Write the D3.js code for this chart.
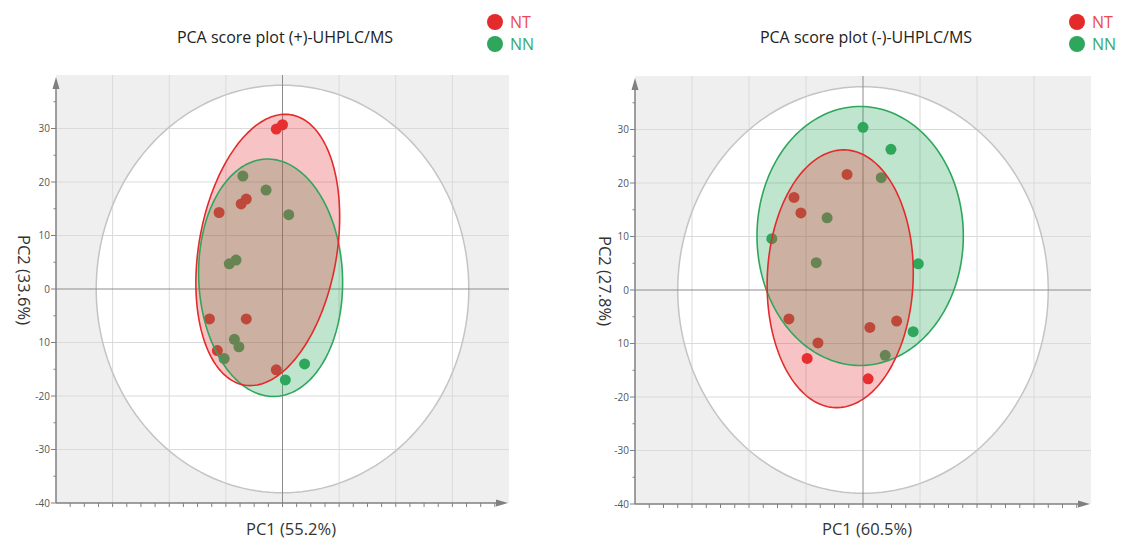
<!DOCTYPE html>
<html>
<head>
<meta charset="utf-8">
<script src="https://cdn.jsdelivr.net/npm/d3@7"></script>
<style>
  body { margin: 0; background: #fff; }
  svg text { font-family: "Open Sans", "Noto Sans", sans-serif; }
</style>
</head>
<body>
<div id="chart"></div>
<script>
// groups shown in the legend
const groups = ["NT", "NN"];

// (+)-UHPLC/MS scores
const posNTpc1 = [-1.1, 0.0, -6.4, -7.3, -11.2, -12.9, -6.4, -11.5, -1.1];
const posNTpc2 = [29.9, 30.7, 16.8, 15.9, 14.3, -5.6, -5.6, -11.5, -15.1];
const posNNpc1 = [-7.0, -2.9, 1.1, -8.2, -9.4, -8.5, -7.7, -10.3, 3.9, 0.5];
const posNNpc2 = [21.1, 18.5, 13.9, 5.4, 4.7, -9.4, -10.8, -13.0, -14.0, -17.0];

// (-)-UHPLC/MS scores
const negNTpc1 = [-2.8, -12.1, -10.9, -13.0, -7.9, -9.8, 1.2, 5.9, 0.9];
const negNTpc2 = [21.6, 17.3, 14.4, -5.4, -9.9, -12.8, -7.0, -5.8, -16.6];
const negNNpc1 = [0.0, 4.9, 3.2, -6.3, -16.0, -8.2, 9.7, 8.8, 3.9];
const negNNpc2 = [30.4, 26.3, 21.0, 13.5, 9.6, 5.1, 4.9, -7.8, -12.2];

// group ellipses: [center pc1, center pc2, semi-axis pc1, semi-axis pc2, tilt deg]
const posNTell = [-2.6, 7.3, 12.2, 25.6, 9];
const posNNell = [-2.1, 2.1, 12.7, 22.2, -2];
const negNTell = [-4.0, 2.1, 12.8, 24.1, 2];
const negNNell = [-0.5, 10.1, 18.1, 24.2, 0];

// Hotelling T2 ellipse semi-axes [pc1, pc2]
const posT2 = [32.9, 38.1];
const negT2 = [32.5, 38.0];

// axes
const axisDomain = [-40, 40];
const yTickValues = [-40, -30, -20, -10, 0, 10, 20, 30];
const yTickLabels = ["-40", "-30", "-20", "10", "0", "10", "20", "30"];
const gridValues = [-30, -20, -10, 10, 20, 30];

const titles = ["PCA score plot (+)-UHPLC/MS", "PCA score plot (-)-UHPLC/MS"];
const xTitles = ["PC1 (55.2%)", "PC1 (60.5%)"];
const yTitles = ["PC2 (33.6%)", "PC2 (27.8%)"];

const colors = { NT: "#e42b2b", NN: "#2ea65c" };
const fills = { NT: "#e8383c", NN: "#2eaa5e" };
const legendText = { NT: "#ec4b4e", NN: "#3aa96b" };

const svg = d3.select("#chart").append("svg")
    .attr("width", 1123)
    .attr("height", 540);

drawPanel({
    left: 56, right: 509, top: 75, bottom: 503,
    titleX: 285, legendX: 495, yLabelX: 24, xLabelX: 291,
    title: titles[0], xTitle: xTitles[0], yTitle: yTitles[0],
    t2: posT2,
    nt: { x: posNTpc1, y: posNTpc2, ell: posNTell },
    nn: { x: posNNpc1, y: posNNpc2, ell: posNNell }
});

drawPanel({
    left: 635, right: 1091, top: 76, bottom: 504,
    titleX: 866, legendX: 1077, yLabelX: 605, xLabelX: 867,
    title: titles[1], xTitle: xTitles[1], yTitle: yTitles[1],
    t2: negT2,
    nt: { x: negNTpc1, y: negNTpc2, ell: negNTell },
    nn: { x: negNNpc1, y: negNNpc2, ell: negNNell }
});

function ellipsePoints(cx, cy, rx, ry, tiltDeg) {
    const phi = tiltDeg * Math.PI / 180;
    return d3.range(0, 360, 2).map(deg => {
        const t = deg * Math.PI / 180;
        const ex = rx * Math.cos(t);
        const ey = ry * Math.sin(t);
        return [cx + ex * Math.cos(phi) + ey * Math.sin(phi),
                cy - ex * Math.sin(phi) + ey * Math.cos(phi)];
    });
}

function drawPanel(p) {
    const x = d3.scaleLinear().domain(axisDomain).range([p.left, p.right]);
    const y = d3.scaleLinear().domain(axisDomain).range([p.bottom, p.top]);
    const g = svg.append("g");

    const path = d3.line()
        .x(d => x(d[0]))
        .y(d => y(d[1]))
        .curve(d3.curveLinearClosed);

    // grey plot background
    g.append("rect")
        .attr("x", p.left).attr("y", p.top)
        .attr("width", p.right - p.left).attr("height", p.bottom - p.top)
        .attr("fill", "#efefef");

    // T2 ellipse (white inside)
    g.append("path")
        .attr("d", path(ellipsePoints(0, 0, p.t2[0], p.t2[1], 0)))
        .attr("fill", "#fff");

    // grid
    g.selectAll(".vgrid").data(gridValues).enter().append("line")
        .attr("x1", d => x(d)).attr("x2", d => x(d))
        .attr("y1", p.top).attr("y2", p.bottom)
        .attr("stroke", "#dadada").attr("stroke-width", 1);
    g.selectAll(".hgrid").data(gridValues).enter().append("line")
        .attr("y1", d => y(d)).attr("y2", d => y(d))
        .attr("x1", p.left).attr("x2", p.right)
        .attr("stroke", "#dadada").attr("stroke-width", 1);

    g.append("path")
        .attr("d", path(ellipsePoints(0, 0, p.t2[0], p.t2[1], 0)))
        .attr("fill", "none")
        .attr("stroke", "#c4c4c4")
        .attr("stroke-width", 1.5);

    // zero lines
    g.append("line")
        .attr("x1", x(0)).attr("x2", x(0)).attr("y1", p.top).attr("y2", p.bottom)
        .attr("stroke", "#8c8c8c").attr("stroke-width", 1);
    g.append("line")
        .attr("x1", p.left).attr("x2", p.right).attr("y1", y(0)).attr("y2", y(0))
        .attr("stroke", "#8c8c8c").attr("stroke-width", 1);

    // score points
    [["NT", p.nt], ["NN", p.nn]].forEach(([key, s]) => {
        g.selectAll(".dot-" + key).data(s.x).enter().append("circle")
            .attr("cx", d => x(d))
            .attr("cy", (d, i) => y(s.y[i]))
            .attr("r", 5.5)
            .attr("fill", colors[key]);
    });

    // group ellipses, drawn over the points
    [["NN", p.nn], ["NT", p.nt]].forEach(([key, s]) => {
        const e = s.ell;
        g.append("path")
            .attr("d", path(ellipsePoints(e[0], e[1], e[2], e[3], e[4])))
            .attr("fill", fills[key])
            .attr("fill-opacity", 0.3)
            .attr("stroke", "none");
    });
    [["NN", p.nn], ["NT", p.nt]].forEach(([key, s]) => {
        const e = s.ell;
        g.append("path")
            .attr("d", path(ellipsePoints(e[0], e[1], e[2], e[3], e[4])))
            .attr("fill", "none")
            .attr("stroke", colors[key])
            .attr("stroke-width", 1.6);
    });

    // axes
    const axisColor = "#808080";
    g.append("line")
        .attr("x1", p.left).attr("x2", p.left).attr("y1", p.bottom).attr("y2", p.top + 8)
        .attr("stroke", axisColor).attr("stroke-width", 1.5);
    g.append("path")
        .attr("d", `M${p.left},${p.top + 2}L${p.left - 3.5},${p.top + 14}L${p.left + 3.5},${p.top + 14}Z`)
        .attr("fill", axisColor);
    g.append("line")
        .attr("x1", p.left).attr("x2", p.right - 8).attr("y1", p.bottom).attr("y2", p.bottom)
        .attr("stroke", axisColor).attr("stroke-width", 1.5);
    g.append("path")
        .attr("d", `M${p.right - 1},${p.bottom}L${p.right - 13},${p.bottom - 3.5}L${p.right - 13},${p.bottom + 3.5}Z`)
        .attr("fill", axisColor);

    // y ticks
    g.selectAll(".ytick").data(yTickValues).enter().append("line")
        .attr("x1", p.left - 5).attr("x2", p.left)
        .attr("y1", d => y(d)).attr("y2", d => y(d))
        .attr("stroke", axisColor).attr("stroke-width", 1);
    g.selectAll(".yminor").data(d3.range(-35, 40, 10)).enter().append("line")
        .attr("x1", p.left - 2.5).attr("x2", p.left)
        .attr("y1", d => y(d)).attr("y2", d => y(d))
        .attr("stroke", axisColor).attr("stroke-width", 1);
    g.selectAll(".ylabel").data(yTickValues).enter().append("text")
        .attr("x", p.left - 6)
        .attr("y", d => y(d))
        .attr("dy", "0.35em")
        .attr("text-anchor", "end")
        .attr("font-size", 10)
        .attr("fill", "#555")
        .text((d, i) => yTickLabels[i]);

    // x ticks
    g.selectAll(".xtick").data(d3.range(-37.5, 40, 2.5)).enter().append("line")
        .attr("x1", d => x(d)).attr("x2", d => x(d))
        .attr("y1", p.bottom).attr("y2", p.bottom + 4)
        .attr("stroke", axisColor).attr("stroke-width", 1);

    // titles
    g.append("text")
        .attr("x", p.titleX).attr("y", 43)
        .attr("text-anchor", "middle")
        .attr("font-size", 16)
        .attr("fill", "#222")
        .text(p.title);
    g.append("text")
        .attr("x", p.xLabelX).attr("y", 535)
        .attr("text-anchor", "middle")
        .attr("font-size", 16.5)
        .attr("fill", "#333")
        .text(p.xTitle);
    g.append("text")
        .attr("transform", `translate(${p.yLabelX},${y(0) - 9}) rotate(90)`)
        .attr("text-anchor", "middle")
        .attr("dy", "0.35em")
        .attr("font-size", 16.5)
        .attr("fill", "#333")
        .text(p.yTitle);

    // legend
    groups.forEach((key, i) => {
        g.append("circle")
            .attr("cx", p.legendX).attr("cy", 22 + i * 22)
            .attr("r", 8)
            .attr("fill", colors[key]);
        g.append("text")
            .attr("x", p.legendX + 15).attr("y", 22 + i * 22)
            .attr("dy", "0.35em")
            .attr("font-size", 16)
            .attr("fill", legendText[key])
            .text(key);
    });
}
</script>
</body>
</html>
